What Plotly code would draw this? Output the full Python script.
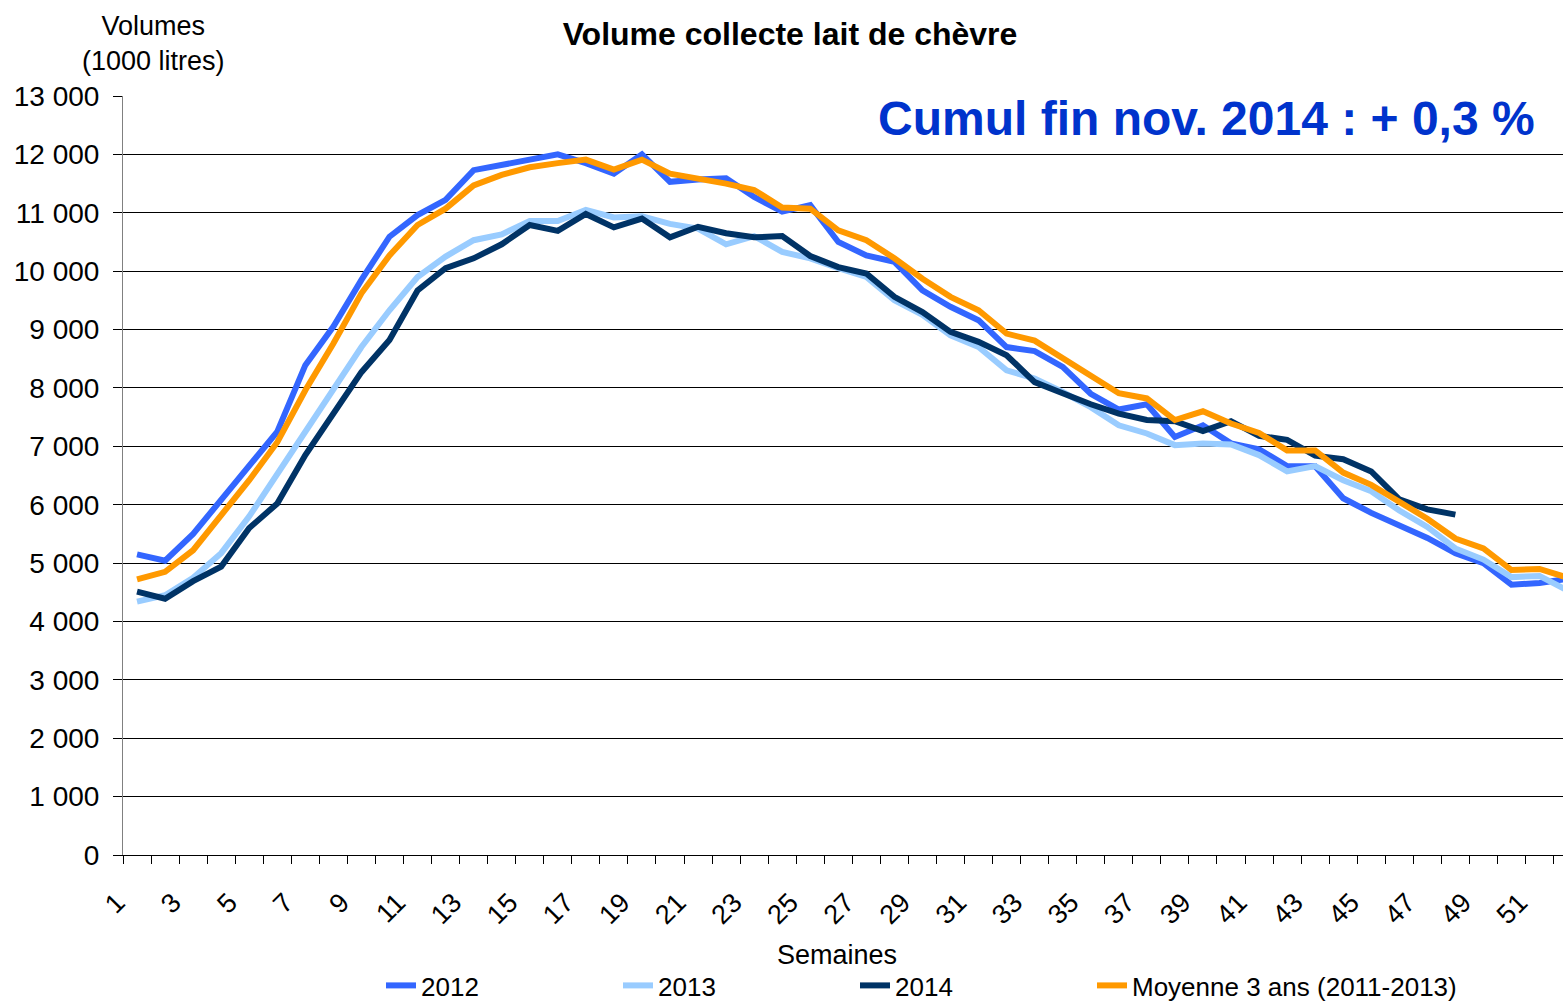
import plotly.graph_objects as go

# ---------------- data ----------------
weeks = [1, 2, 3, 4, 5, 6, 7, 8, 9, 10, 11, 12, 13, 14, 15, 16, 17, 18, 19, 20,
         21, 22, 23, 24, 25, 26, 27, 28, 29, 30, 31, 32, 33, 34, 35, 36, 37, 38,
         39, 40, 41, 42, 43, 44, 45, 46, 47, 48, 49, 50, 51, 52]

vol_2012 = [5150, 5040, 5500, 6080, 6650, 7250, 8390, 9050, 9850, 10590,
            10960, 11220, 11730, 11820, 11910, 12000, 11850, 11670, 12000, 11530,
            11570, 11590, 11270, 11020, 11130, 10500, 10270, 10160, 9670, 9390,
            9160, 8700, 8630, 8360, 7900, 7630, 7720, 7160, 7360, 7050,
            6950, 6660, 6660, 6110, 5860, 5650, 5430, 5170, 5000, 4630,
            4660, 4730]

vol_2013 = [4340, 4450, 4750, 5170, 5800, 6530, 7250, 7960, 8700, 9330,
            9900, 10250, 10530, 10630, 10860, 10860, 11050, 10920, 10940, 10810,
            10730, 10460, 10600, 10330, 10220, 10050, 9900, 9500, 9250, 8900,
            8700, 8300, 8160, 7930, 7670, 7360, 7220, 7020, 7050, 7030,
            6850, 6570, 6660, 6420, 6230, 5900, 5620, 5250, 5060, 4760,
            4780, 4530]

weeks_2014 = [1, 2, 3, 4, 5, 6, 7, 8, 9, 10, 11, 12, 13, 14, 15, 16, 17, 18,
              19, 20, 21, 22, 23, 24, 25, 26, 27, 28, 29, 30, 31, 32, 33, 34,
              35, 36, 37, 38, 39, 40, 41, 42, 43, 44, 45, 46, 47, 48]
vol_2014 = [4510, 4390, 4690, 4940, 5600, 6020, 6850, 7560, 8270, 8820,
            9670, 10050, 10220, 10460, 10790, 10690, 10980, 10750, 10900, 10580,
            10760, 10650, 10580, 10600, 10260, 10070, 9960, 9560, 9300, 8960,
            8790, 8560, 8100, 7910, 7720, 7560, 7450, 7430, 7260, 7430,
            7180, 7110, 6840, 6780, 6570, 6090, 5920, 5830]

vol_moyenne = [4720, 4850, 5220, 5800, 6420, 7070, 7960, 8760, 9620, 10270,
               10790, 11070, 11470, 11650, 11780, 11850, 11910, 11740, 11910, 11670,
               11590, 11500, 11390, 11090, 11070, 10700, 10530, 10220, 9870, 9560,
               9330, 8930, 8810, 8500, 8190, 7910, 7820, 7450, 7600, 7390,
               7230, 6930, 6930, 6550, 6340, 6060, 5760, 5420, 5250, 4880,
               4900, 4750]

series_names = ["2012", "2013", "2014", "Moyenne 3 ans (2011-2013)"]

x_tick_values = [1, 3, 5, 7, 9, 11, 13, 15, 17, 19, 21, 23, 25, 27, 29, 31, 33,
                 35, 37, 39, 41, 43, 45, 47, 49, 51]
x_tick_labels = ["1", "3", "5", "7", "9", "11", "13", "15", "17", "19", "21",
                 "23", "25", "27", "29", "31", "33", "35", "37", "39", "41",
                 "43", "45", "47", "49", "51"]

y_tick_values = [0, 1000, 2000, 3000, 4000, 5000, 6000, 7000, 8000, 9000,
                 10000, 11000, 12000, 13000]
y_tick_labels = ["0", "1 000", "2 000", "3 000", "4 000", "5 000", "6 000",
                 "7 000", "8 000", "9 000", "10 000", "11 000", "12 000", "13 000"]

# ---------------- styling ----------------
FONT = "Liberation Sans, Arial, sans-serif"
colors = ["#3366FF", "#99CCFF", "#003366", "#FF9900"]
LW = 6
legend_widths = [192, 192, 192, 340]

W, H = 1563, 1001
PLOT_L, PLOT_T, PLOT_B = 123, 96, 855
PW, PH = W - PLOT_L, PLOT_B - PLOT_T


def px_x(page_x):
    return (page_x - PLOT_L) / PW


def px_y(page_y):
    return (PLOT_B - page_y) / PH


fig = go.Figure()
fig.add_trace(go.Scatter(x=weeks, y=vol_2012, mode="lines", name=series_names[0],
                         legendwidth=legend_widths[0],
                         line=dict(color=colors[0], width=LW)))
fig.add_trace(go.Scatter(x=weeks, y=vol_2013, mode="lines", name=series_names[1],
                         legendwidth=legend_widths[1],
                         line=dict(color=colors[1], width=LW)))
fig.add_trace(go.Scatter(x=weeks_2014, y=vol_2014, mode="lines", name=series_names[2],
                         legendwidth=legend_widths[2],
                         line=dict(color=colors[2], width=LW)))
fig.add_trace(go.Scatter(x=weeks, y=vol_moyenne, mode="lines", name=series_names[3],
                         legendwidth=legend_widths[3],
                         line=dict(color=colors[3], width=LW)))

fig.update_layout(
    width=W, height=H,
    margin=dict(l=PLOT_L, r=0, t=PLOT_T, b=H - PLOT_B, autoexpand=False),
    paper_bgcolor="white", plot_bgcolor="white",
    font=dict(family=FONT, size=26, color="#000000"),
    title=dict(text="<b>Volume collecte lait de chèvre</b>",
               x=790 / W, y=1 - 34 / H,
               xanchor="center", yanchor="middle",
               font=dict(family=FONT, size=32, color="#000000")),
    showlegend=True,
    legend=dict(orientation="h", xref="container", yref="container",
                x=381 / W, y=1 - 962 / H,
                xanchor="left", yanchor="top",
                entrywidthmode="pixels",
                font=dict(family=FONT, size=26, color="#000000"),
                bgcolor="rgba(0,0,0,0)"),
)

fig.update_xaxes(
    range=[0.5, 51.836],
    tickmode="array", tickvals=x_tick_values, ticktext=x_tick_labels,
    ticks="", tickangle=-45,
    tickfont=dict(family=FONT, size=27, color="#000000"),
    ticklabelstandoff=20, ticklabelshift=-20,
    showline=True, linecolor="#000000", linewidth=1,
    showgrid=False, zeroline=False, automargin=False,
    minor=dict(tick0=0.5, dtick=1, ticks="outside", ticklen=8,
               tickcolor="#000000", tickwidth=1, showgrid=False),
)

fig.update_yaxes(
    range=[0, 13000],
    tickmode="array", tickvals=y_tick_values, ticktext=y_tick_labels,
    ticks="outside", ticklen=9, tickcolor="#000000", tickwidth=1,
    tickfont=dict(family=FONT, size=28, color="#000000"),
    ticklabelstandoff=8,
    showline=True, linecolor="#808080", linewidth=1,
    showgrid=True, gridcolor="#000000", gridwidth=1,
    zeroline=False, automargin=False,
)

# axis titles and the highlighted note, as annotations positioned like the reference
fig.add_annotation(text="Volumes<br>(1000 litres)", xref="paper", yref="paper",
                   x=px_x(153), y=px_y(43),
                   xanchor="center", yanchor="middle", showarrow=False, align="center",
                   font=dict(family=FONT, size=27, color="#000000"))
fig.add_annotation(text="Semaines", xref="paper", yref="paper",
                   x=px_x(837), y=px_y(955),
                   xanchor="center", yanchor="middle", showarrow=False,
                   font=dict(family=FONT, size=27, color="#000000"))
fig.add_annotation(text="<b>Cumul fin nov. 2014 : + 0,3 %</b>", xref="paper", yref="paper",
                   x=px_x(1537), y=px_y(118),
                   xanchor="right", yanchor="middle", showarrow=False,
                   font=dict(family=FONT, size=48, color="#0033CC"))

# remove the page's default 8px body margin so the figure fills the window exactly
fig.write_html(
    "out.html",
    config={"displayModeBar": False},
    post_script="document.body.style.margin='0';document.body.style.overflow='hidden';",
)
